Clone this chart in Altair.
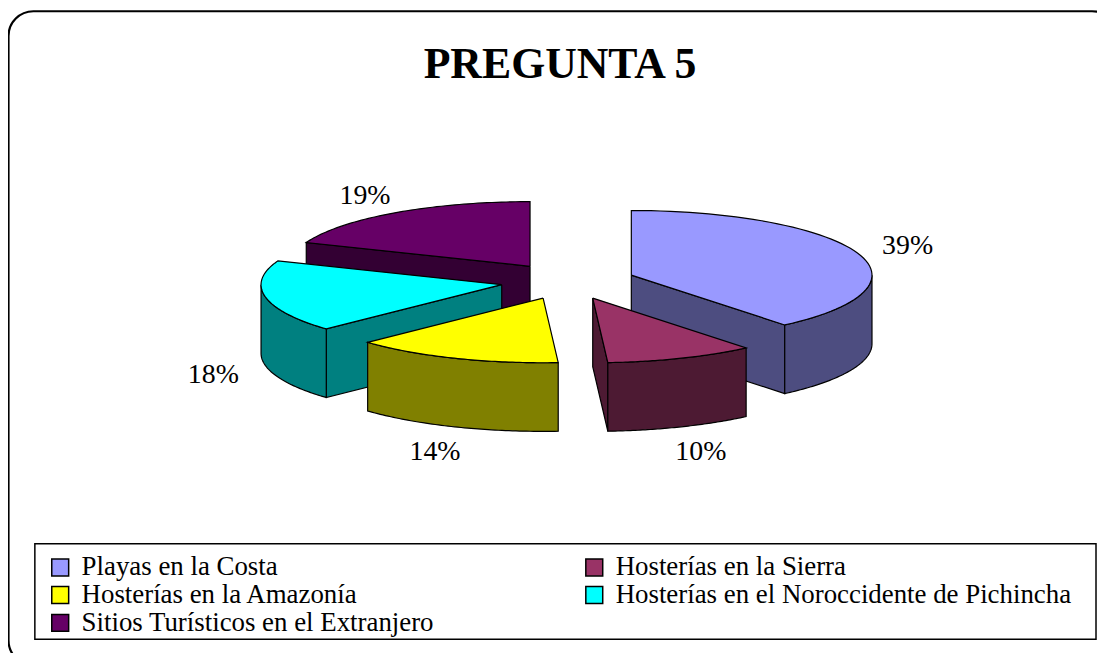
import altair as alt
import pandas as pd

# ---- data ----
categories = [
    "Playas en la Costa",
    "Hosterías en la Sierra",
    "Hosterías en la Amazonía",
    "Hosterías en el Noroccidente de Pichincha",
    "Sitios Turísticos en el Extranjero",
]
values = [39, 10, 14, 18, 19]
top_colors = ["#9999FF", "#993366", "#FFFF00", "#00FFFF", "#660066"]
side_colors = ["#4D4D80", "#4D1A33", "#808000", "#008080", "#330033"]
title_text = "PREGUNTA 5"

# ---- layout parameters ----
W, H = 1095, 645
CX, CY = 563, 273          # pie centre (px, view coords)
RX, RY = 242, 65           # ellipse radii (px)
DEPTH = 69 / RY            # pie thickness in y-units
EXPLODE = 0.28
N = 60
FONT = "Liberation Serif"

xs = alt.Scale(domain=[-CX / RX, (W - CX) / RX], nice=False, zero=False)
ys = alt.Scale(domain=[(CY - H) / RY, CY / RY], nice=False, zero=False)

df = pd.DataFrame({
    "cat": categories,
    "val": values,
    "idx": list(range(len(values))),
    "side": side_colors,
})


def base():
    return (
        alt.Chart(df)
        .transform_joinaggregate(total="sum(val)")
        .transform_window(cum="sum(val)", sort=[alt.SortField("idx")])
        .transform_calculate(
            a="2*PI*(datum.cum - datum.val)/datum.total",
            b="2*PI*datum.cum/datum.total",
        )
        .transform_calculate(m="(datum.a + datum.b)/2")
        .transform_calculate(
            cx=f"{EXPLODE}*sin(datum.m)",
            cy=f"{EXPLODE}*cos(datum.m)",
        )
    )


X = alt.X("px:Q", scale=xs, axis=None)
Y = alt.Y("py:Q", scale=ys, axis=None)


def radial_walls(back):
    cond = "datum.cy > 0" if back else "datum.cy <= 0"
    return (
        base()
        .transform_filter(cond)
        .transform_calculate(ws="[0, 1]")
        .transform_flatten(["ws"], as_=["w"])
        .transform_calculate(
            ang="datum.w == 0 ? datum.a : datum.b",
            vis="datum.w == 0 ? (datum.a > PI + 1e-6 && datum.a < 2*PI - 1e-6) : (datum.b > 1e-6 && datum.b < PI - 1e-6)",
        )
        .transform_filter("datum.vis")
        .transform_calculate(pts="sequence(0, 5)")
        .transform_flatten(["pts"], as_=["k"])
        .transform_calculate(
            rim="datum.k == 1 || datum.k == 2 ? 1 : 0",
            bot="datum.k == 2 || datum.k == 3 ? 1 : 0",
        )
        .transform_calculate(
            px="datum.cx + datum.rim * sin(datum.ang)",
            py=f"datum.cy + datum.rim * cos(datum.ang) - datum.bot * {DEPTH}",
        )
        .mark_line(stroke="black", strokeWidth=1.2, interpolate="linear")
        .encode(x=X, y=Y, order="k:Q", detail=["cat:N", "w:Q"],
                fill=alt.Fill("side:N", scale=None, legend=None))
    )


# outer curved walls (front half only)
outer = (
    base()
    .transform_calculate(lo="max(datum.a, PI/2)", hi="min(datum.b, 3*PI/2)")
    .transform_filter("datum.hi > datum.lo + 1e-6")
    .transform_calculate(pts=f"sequence(0, {2 * N + 3})")
    .transform_flatten(["pts"], as_=["k"])
    .transform_calculate(
        j=f"datum.k <= {N} ? datum.k : (datum.k <= {2 * N + 1} ? {2 * N + 1} - datum.k : 0)",
        bot=f"datum.k > {N} && datum.k <= {2 * N + 1} ? 1 : 0",
    )
    .transform_calculate(t=f"datum.lo + (datum.hi - datum.lo) * datum.j / {N}")
    .transform_calculate(
        px="datum.cx + sin(datum.t)",
        py=f"datum.cy + cos(datum.t) - datum.bot * {DEPTH}",
    )
    .mark_line(stroke="black", strokeWidth=1.2, interpolate="linear")
    .encode(x=X, y=Y, order="k:Q", detail="cat:N",
            fill=alt.Fill("side:N", scale=None, legend=None))
)

# top faces
top = (
    base()
    .transform_calculate(pts=f"sequence(0, {N + 3})")
    .transform_flatten(["pts"], as_=["k"])
    .transform_calculate(
        on=f"datum.k >= 1 && datum.k <= {N + 1} ? 1 : 0",
        t=f"datum.a + (datum.b - datum.a) * clamp(datum.k - 1, 0, {N}) / {N}",
    )
    .transform_calculate(
        px="datum.cx + datum.on * sin(datum.t)",
        py="datum.cy + datum.on * cos(datum.t)",
    )
    .mark_line(stroke="black", strokeWidth=1.2, interpolate="linear")
    .encode(
        x=X, y=Y, order="k:Q", detail="cat:N",
        fill=alt.Fill(
            "cat:N",
            scale=alt.Scale(domain=categories, range=top_colors),
            legend=alt.Legend(
                title=None, orient="none", legendX=39, legendY=547,
                direction="horizontal", columns=2, columnPadding=147, rowPadding=0,
                symbolType="square", symbolSize=289,
                symbolStrokeColor="black", symbolStrokeWidth=1.5,
                labelFont=FONT, labelFontSize=27, labelColor="black",
                labelOffset=8, labelLimit=800, padding=0,
            ),
        ),
    )
)

labels = (
    base()
    .transform_calculate(
        lx="1.5*sin(datum.m)",
        ly="1.6*cos(datum.m) - (cos(datum.m) < 0 ? 1.15 : 0)",
        lab="datum.val + '%'",
    )
    .mark_text(font=FONT, fontSize=28, color="black", baseline="middle", align="center")
    .encode(x=alt.X("lx:Q", scale=xs, axis=None),
            y=alt.Y("ly:Q", scale=ys, axis=None),
            text="lab:N")
)

title = (
    alt.Chart(pd.DataFrame({"t": [title_text]}))
    .mark_text(font=FONT, fontSize=44, fontWeight="bold", color="black",
               align="center", baseline="alphabetic")
    .encode(x=alt.value(555), y=alt.value(69), text="t:N")
)

frame = (
    alt.Chart(pd.DataFrame({"f": [0]}))
    .mark_rect(filled=False, stroke="black", strokeWidth=2.2, cornerRadius=25)
    .encode(x=alt.value(0.5), x2=alt.value(1115), y=alt.value(1.5), y2=alt.value(659))
)

legend_box = (
    alt.Chart(pd.DataFrame({"f": [0]}))
    .mark_rect(filled=False, stroke="black", strokeWidth=1.5)
    .encode(x=alt.value(27), x2=alt.value(1094), y=alt.value(537), y2=alt.value(633))
)

chart = (
    alt.layer(frame, legend_box, title, radial_walls(True), radial_walls(False),
              outer, top, labels)
    .resolve_scale(fill="independent")
    .properties(
        width=W, height=H,
        autosize=alt.AutoSizeParams(type="none"),
        padding=0,
    )
    .configure_view(strokeWidth=0)
)

chart.save("out.html", embed_options={"renderer": "svg", "actions": False})
